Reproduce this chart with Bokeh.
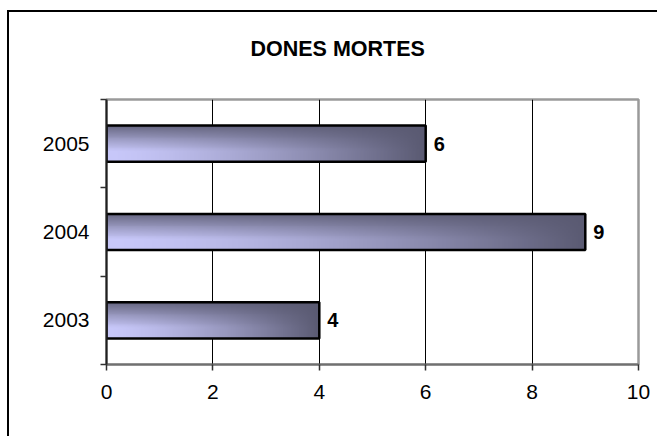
import numpy as np
from bokeh.plotting import figure
from bokeh.models import Range1d, FixedTicker, ColumnDataSource, Title
from bokeh.core.properties import value
from bokeh.embed import file_html
from bokeh.resources import INLINE

# ---- data ----
title_text = "DONES MORTES"
years = ["2003", "2004", "2005"]
deaths = [4, 9, 6]
x_ticks = [0, 2, 4, 6, 8, 10]

FONT = "Liberation Sans"
BAR_H = 0.41

ypos = [i + 0.5 for i in range(len(years))]
bounds = [float(i) for i in range(len(years) + 1)]

p = figure(width=650, height=426, output_backend="svg", toolbar_location=None,
           x_range=Range1d(0, 10), y_range=Range1d(0, len(years)),
           min_border_left=97, min_border_right=21, min_border_top=87, min_border_bottom=74)
p.styles = {"border-left": "2px solid black", "border-top": "2px solid black",
            "margin-top": "10px", "margin-left": "7px"}
p.background_fill_color = "white"
p.border_fill_color = "white"
p.outline_line_color = "#9a9a9a"
p.outline_line_width = 2.5

# spacer panel between frame and title, then the title itself (outer)
p.add_layout(Title(text=" ", text_font_size="1px", standoff=31), "above")
p.add_layout(Title(text=title_text, text_font=FONT, text_font_size="21.5px",
                   text_font_style="bold", text_color="black",
                   align="left", offset=144, standoff=10), "above")

# gradient image for bars
nx, ny = 240, 40
L = np.array([200, 200, 250], dtype=float)
D = np.array([90, 90, 114], dtype=float)
u = np.linspace(0, 1, nx)[None, :]
dist_top = 1 - np.linspace(0, 1, ny)[:, None]   # row 0 is the bottom of the image
vd = np.clip(1 - dist_top / 0.72, 0, 1) ** 1.1
hd = np.clip(u, 0, 1) ** 1.4
d = 1 - (1 - vd * 0.9) * (1 - hd)
rgb = L[None, None, :] + (D - L)[None, None, :] * d[:, :, None]
rgb = np.clip(rgb, 0, 255).astype(np.uint32)
img = ((255 << 24) | (rgb[:, :, 2] << 16) | (rgb[:, :, 1] << 8) | rgb[:, :, 0]).astype(np.uint32)

for yv, val in zip(ypos, deaths):
    p.image_rgba(image=[img], x=0, y=yv - BAR_H / 2, dw=val, dh=BAR_H)

src = ColumnDataSource(dict(y=ypos, v=deaths, lbl=[str(x) for x in deaths]))
p.hbar(y="y", right="v", left=0, height=BAR_H, source=src,
       fill_color=None, line_color="black", line_width=2.5)

p.text(x="v", y="y", text="lbl", source=src, x_offset=8,
       text_font=value(FONT), text_font_size="20px", text_font_style="bold",
       text_align="left", text_baseline="middle", text_color="black")

# axes
p.xaxis.ticker = FixedTicker(ticks=x_ticks)
p.xaxis.axis_line_color = "#707070"
p.xaxis.axis_line_width = 2
p.xaxis.major_tick_line_color = "#303030"
p.xaxis.major_tick_line_width = 1.5
p.xaxis.major_tick_out = 6
p.xaxis.major_tick_in = 0
p.xaxis.minor_tick_line_color = None
p.xaxis.major_label_standoff = 14
p.xaxis.major_label_text_font = FONT
p.xaxis.major_label_text_font_size = "21px"
p.xaxis.major_label_text_color = "black"

p.yaxis.ticker = FixedTicker(ticks=ypos, minor_ticks=bounds)
p.yaxis.major_label_overrides = {yv: yr for yv, yr in zip(ypos, years)}
p.yaxis.axis_line_color = "#202020"
p.yaxis.axis_line_width = 2
p.yaxis.major_tick_line_color = None
p.yaxis.major_tick_out = 0
p.yaxis.major_tick_in = 0
p.yaxis.minor_tick_line_color = "#303030"
p.yaxis.minor_tick_line_width = 1.5
p.yaxis.minor_tick_out = 6
p.yaxis.minor_tick_in = 0
p.yaxis.major_label_standoff = 11
p.yaxis.major_label_text_font = FONT
p.yaxis.major_label_text_font_size = "21px"
p.yaxis.major_label_text_color = "black"

p.xgrid.ticker = FixedTicker(ticks=x_ticks)
p.xgrid.grid_line_color = "black"
p.xgrid.grid_line_width = 1
p.ygrid.grid_line_color = None

open("out.html", "w").write(file_html(p, INLINE))
